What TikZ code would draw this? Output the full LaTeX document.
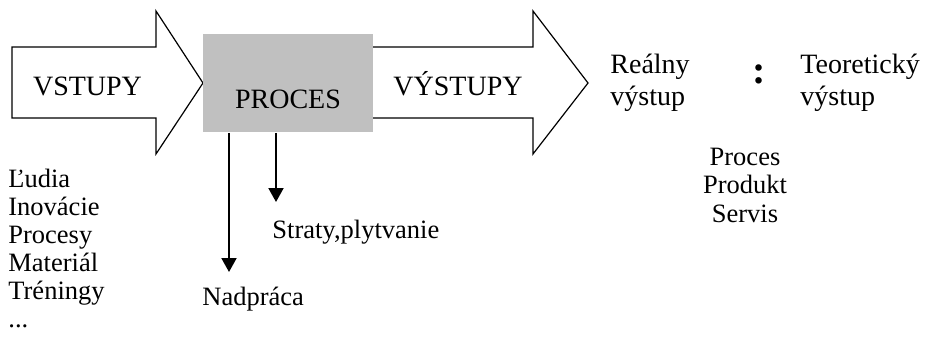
\documentclass[tikz,border=0pt]{standalone}
\usepackage{fontspec}
\setmainfont{Liberation Serif}
\usepackage{xcolor}
\usetikzlibrary{arrows.meta,positioning}
\definecolor{procgray}{RGB}{192,192,192}

\begin{document}
\begin{tikzpicture}[x=0.5pt, y=-0.5pt, inner sep=0pt, font=\fontsize{14}{16}\selectfont]
  \useasboundingbox (0,0) rectangle (926,343);
  % big arrows, box on top
  \draw[fill=white, line width=0.6pt] (12,47) -- (156,47) -- (156,11) -- (203,83)
    -- (156,154) -- (156,118) -- (12,118) -- cycle;
  \draw[fill=white, line width=0.6pt] (360,47) -- (533,47) -- (533,11) -- (588,83)
    -- (533,154) -- (533,118) -- (360,118);
  \node[fill=procgray, anchor=north west, minimum width=85pt, minimum height=49pt]
    (box) at (203,34) {};
  \node[anchor=base] (in) at (87.5,95) {VSTUPY};
  \node[anchor=base] (proc) at (288,108) {PROCES};
  \node[anchor=base] (out) at (458,95) {VÝSTUPY};
  % real vs theoretical (base = last line)
  \node[anchor=base west, align=left] (real) at (610,105) {Reálny\\ výstup};
  \node[font=\fontsize{20}{20}\selectfont\bfseries] (colon) at (759,74) {:};
  \node[anchor=base west, align=left] (theo) at (800,105) {Teoretický\\ výstup};
  \begin{scope}[font=\fontsize{13.25}{14.2}\selectfont]
    \node[anchor=base, align=center] (kinds) at (745,222) {Proces\\ Produkt\\ Servis};
    \node[anchor=base west, align=left, font=\fontsize{13.25}{14}\selectfont] (inputs) at (8,327)
      {Ľudia\\ Inovácie\\ Procesy\\ Materiál\\ Tréningy\\ ...};
    \node[anchor=base west] (loss) at (272,238) {Straty,plytvanie};
    \node[anchor=base west] (over) at (202,305) {Nadpráca};
  \end{scope}
  \coordinate (lossend) at (276,202);
  \coordinate (overend) at (229,272);
  \draw[-{Triangle[width=7.5pt,length=7pt]}, line width=1pt] (box.south -| lossend) -- (lossend);
  \draw[-{Triangle[width=7.5pt,length=7pt]}, line width=1pt] (box.south -| overend) -- (overend);
\end{tikzpicture}
\end{document}
